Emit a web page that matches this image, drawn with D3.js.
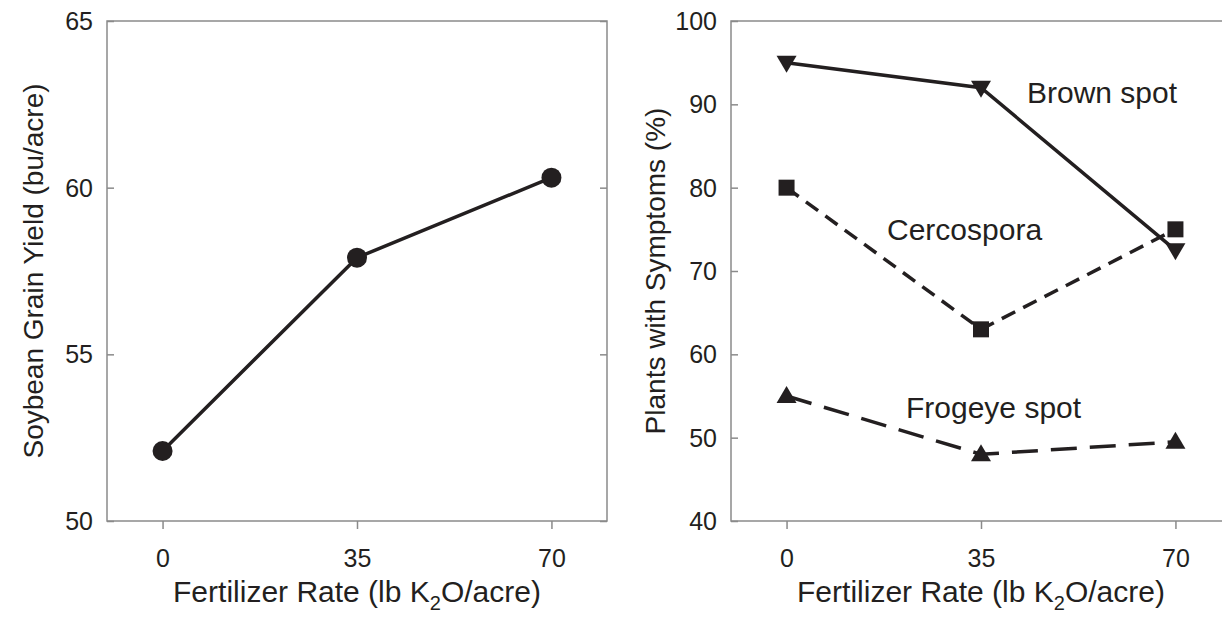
<!DOCTYPE html>
<html lang="en">
<head>
    <title>Soybean potassium response</title>
    <style>
        body { margin: 0; background: #fff; }
        svg text { font-family: "Liberation Sans", Arial, sans-serif; fill: #231f20; }
        .frame { fill: none; stroke: #8a8a8a; stroke-width: 1.5; }
        .tick line { stroke: #8a8a8a; stroke-width: 1.5; }
    </style>
</head>
<body>
<svg id="chart" width="1222" height="617"></svg>
<script src="https://d3js.org/d3.v7.min.js"></script>
<script>
    // data
    var rates = [0, 35, 70];
    var yieldValues = [52.1, 57.9, 60.3];
    var brownSpot = [95, 92, 72.5];
    var cercospora = [80, 63, 75];
    var frogeye = [55, 48, 49.5];
    var yieldTicks = [50, 55, 60, 65];
    var symptomTicks = [40, 50, 60, 70, 80, 90, 100];

    var svg = d3.select("#chart");
    var ink = "#231f20";

    function panel(opts) {
        var x = d3.scaleLinear().domain([-10, 80]).range([opts.left, opts.right]);
        var y = d3.scaleLinear().domain(opts.yDomain).range([521, 21]);
        var g = svg.append("g");

        g.append("rect").attr("class", "frame")
            .attr("x", opts.left).attr("y", 21)
            .attr("width", opts.right - opts.left).attr("height", 500);

        // x ticks, outside
        g.append("g").attr("transform", "translate(0,521)")
            .call(d3.axisBottom(x).tickValues(rates).tickSize(8).tickPadding(20).tickFormat(d3.format("d")))
            .call(function (a) {
                a.select(".domain").remove();
                a.selectAll("text").attr("font-size", 25).attr("fill", ink);
            });

        // y ticks, inside on both sides
        g.append("g").attr("transform", "translate(" + opts.left + ",0)")
            .call(d3.axisRight(y).tickValues(opts.yTicks).tickSize(7).tickFormat(""))
            .call(function (a) { a.select(".domain").remove(); });
        g.append("g").attr("transform", "translate(" + opts.right + ",0)")
            .call(d3.axisLeft(y).tickValues(opts.yTicks).tickSize(7).tickFormat(""))
            .call(function (a) { a.select(".domain").remove(); });
        g.selectAll(".yl").data(opts.yTicks).enter().append("text")
            .attr("x", opts.left - 14).attr("y", function (d) { return y(d); })
            .attr("dy", "0.36em").attr("text-anchor", "end").attr("font-size", 25)
            .text(function (d) { return d; });

        // axis titles
        var xt = g.append("text").attr("x", x(35)).attr("y", 602)
            .attr("text-anchor", "middle").attr("font-size", 30);
        xt.append("tspan").text("Fertilizer Rate (lb K");
        xt.append("tspan").attr("font-size", 20).attr("dy", 8).text("2");
        xt.append("tspan").attr("dy", -8).text("O/acre)");

        g.append("text")
            .attr("transform", "translate(" + opts.titleX + "," + (y.range()[0] + y.range()[1]) / 2 + ") rotate(-90)")
            .attr("text-anchor", "middle").attr("font-size", 28)
            .text(opts.yTitle);

        return { g: g, x: x, y: y };
    }

    function series(p, values, dash, marker) {
        var line = d3.line().x(function (d, i) { return p.x(rates[i]); }).y(function (d) { return p.y(d); });
        p.g.append("path").datum(values)
            .attr("d", line).attr("fill", "none").attr("stroke", ink)
            .attr("stroke-width", 3.5).attr("stroke-dasharray", dash);
        p.g.selectAll(null).data(values).enter().append("path")
            .attr("transform", function (d, i) { return "translate(" + p.x(rates[i]) + "," + p.y(d) + ")"; })
            .attr("d", marker).attr("fill", ink);
    }

    var circle = d3.symbol().type(d3.symbolCircle).size(Math.PI * 10 * 10)();
    var square = "M-8,-8H8V8H-8Z";
    var triUp = "M0,-10L10,7H-10Z";
    var triDown = "M0,10L10,-7H-10Z";

    var left = panel({ left: 107, right: 607, yDomain: [50, 65], yTicks: yieldTicks,
        titleX: 43, yTitle: "Soybean Grain Yield (bu/acre)" });
    series(left, yieldValues, null, circle);

    var right = panel({ left: 731, right: 1231, yDomain: [40, 100], yTicks: symptomTicks,
        titleX: 665, yTitle: "Plants with Symptoms (%)" });
    series(right, brownSpot, null, triDown);
    series(right, cercospora, "15,9", square);
    series(right, frogeye, "26,13", triUp);

    var labels = [
        { text: "Brown spot", x: 1027, v: 91.5 },
        { text: "Cercospora", x: 887, v: 75 },
        { text: "Frogeye spot", x: 906, v: 53.6 }
    ];
    right.g.selectAll(".lbl").data(labels).enter().append("text")
        .attr("x", function (d) { return d.x; })
        .attr("y", function (d) { return right.y(d.v); })
        .attr("dy", "0.36em").attr("font-size", 30)
        .text(function (d) { return d.text; });
</script>
</body>
</html>
